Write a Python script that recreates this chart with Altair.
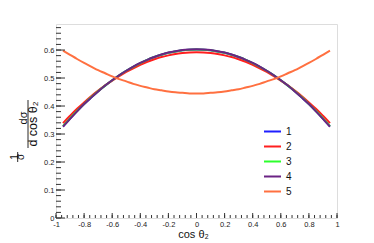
import altair as alt
import pandas as pd

xs = [-0.95, -0.90, -0.85, -0.80, -0.75, -0.70, -0.65, -0.60, -0.55, -0.50,
      -0.45, -0.40, -0.35, -0.30, -0.25, -0.20, -0.15, -0.10, -0.05, 0.00,
      0.05, 0.10, 0.15, 0.20, 0.25, 0.30, 0.35, 0.40, 0.45, 0.50,
      0.55, 0.60, 0.65, 0.70, 0.75, 0.80, 0.85, 0.90, 0.95]

s1 = [0.327, 0.355, 0.382, 0.407, 0.430, 0.453, 0.473, 0.492, 0.510, 0.526,
      0.540, 0.553, 0.565, 0.575, 0.583, 0.590, 0.595, 0.599, 0.601, 0.602,
      0.601, 0.599, 0.595, 0.590, 0.583, 0.575, 0.565, 0.553, 0.540, 0.526,
      0.510, 0.492, 0.473, 0.453, 0.430, 0.407, 0.382, 0.355, 0.327]
s2 = [0.339, 0.365, 0.390, 0.413, 0.435, 0.455, 0.474, 0.491, 0.507, 0.522,
      0.535, 0.547, 0.558, 0.567, 0.575, 0.581, 0.586, 0.589, 0.591, 0.592,
      0.591, 0.589, 0.586, 0.581, 0.575, 0.567, 0.558, 0.547, 0.535, 0.522,
      0.507, 0.491, 0.474, 0.455, 0.435, 0.413, 0.390, 0.365, 0.339]
s3 = [0.328, 0.356, 0.382, 0.407, 0.431, 0.453, 0.473, 0.492, 0.510, 0.526,
      0.540, 0.553, 0.565, 0.575, 0.583, 0.590, 0.595, 0.599, 0.601, 0.602,
      0.601, 0.599, 0.595, 0.590, 0.583, 0.575, 0.565, 0.553, 0.540, 0.526,
      0.510, 0.492, 0.473, 0.453, 0.431, 0.407, 0.382, 0.356, 0.328]
s4 = [0.326, 0.354, 0.381, 0.407, 0.430, 0.452, 0.473, 0.492, 0.510, 0.526,
      0.541, 0.554, 0.565, 0.575, 0.584, 0.591, 0.596, 0.600, 0.602, 0.603,
      0.602, 0.600, 0.596, 0.591, 0.584, 0.575, 0.565, 0.554, 0.541, 0.526,
      0.510, 0.492, 0.473, 0.452, 0.430, 0.407, 0.381, 0.354, 0.326]
s5 = [0.598, 0.583, 0.568, 0.554, 0.541, 0.528, 0.517, 0.506, 0.496, 0.488,
      0.479, 0.472, 0.466, 0.460, 0.456, 0.452, 0.449, 0.447, 0.445, 0.445,
      0.445, 0.447, 0.449, 0.452, 0.456, 0.460, 0.466, 0.472, 0.479, 0.488,
      0.496, 0.506, 0.517, 0.528, 0.541, 0.554, 0.568, 0.583, 0.598]

series_names = ["1", "2", "3", "4", "5"]
series_colors = ["#1f1fff", "#ff1f1f", "#2cff2c", "#6b2384", "#ff7040"]

x_major = [-1.0, -0.8, -0.6, -0.4, -0.2, 0.0, 0.2, 0.4, 0.6, 0.8, 1.0]
x_minor = [round(-1 + 0.04 * i, 2) for i in range(51)]
y_major = [0.0, 0.1, 0.2, 0.3, 0.4, 0.5, 0.6]
y_minor = [round(0.02 * i, 2) for i in range(35)]

rows = []
for name, vals in zip(series_names, [s1, s2, s3, s4, s5]):
    for i, (xv, yv) in enumerate(zip(xs, vals)):
        rows.append({"x": xv, "y": yv, "s": name, "o": i})
df = pd.DataFrame(rows)

W, H = 281, 194
FONT = "Liberation Sans"

xscale = alt.Scale(domain=[-1, 1], nice=False, zero=False)
yscale = alt.Scale(domain=[0, 0.693], nice=False, zero=False)

xaxis = alt.Axis(values=x_major, title="cos θ₂", grid=False, ticks=False, domain=False,
                 labelExpr="toString(round(datum.value*10)/10)",
                 labelOverlap=False, labelFlush=False, labelBound=False,
                 labelFontSize=7.5, labelPadding=2, labelFont=FONT, labelColor="#222",
                 titleFont=FONT, titleFontSize=11, titleFontWeight="normal",
                 titleColor="#111", titlePadding=1, titleX=137)
yaxis = alt.Axis(values=y_major, title=None, grid=False, ticks=False, domain=False,
                 labelExpr="toString(round(datum.value*10)/10)",
                 labelOverlap=False, labelFlush=False, labelBound=False,
                 labelFontSize=7.5, labelPadding=2, labelFont=FONT, labelColor="#222")

lines = alt.Chart(df).mark_line(strokeWidth=2, interpolate="monotone").encode(
    x=alt.X("x:Q", scale=xscale, axis=xaxis),
    y=alt.Y("y:Q", scale=yscale, axis=yaxis),
    color=alt.Color("s:N", scale=alt.Scale(domain=series_names, range=series_colors),
                    legend=alt.Legend(orient="none", legendX=207, legendY=98, title=None,
                                      symbolType="stroke", symbolStrokeWidth=2, symbolSize=289,
                                      labelFontSize=10, labelFont=FONT, labelOffset=4,
                                      rowPadding=0, padding=0, labelColor="#111")),
    order="o:Q",
)

ymaj = alt.Chart(pd.DataFrame({"v": y_major})).mark_rule(color="#333", strokeWidth=1).encode(
    y=alt.Y("v:Q", scale=yscale, axis=yaxis), x=alt.value(0), x2=alt.value(9))
ymin = alt.Chart(pd.DataFrame({"v": y_minor})).mark_rule(color="#333", strokeWidth=1).encode(
    y=alt.Y("v:Q", scale=yscale, axis=yaxis), x=alt.value(0), x2=alt.value(5))
xmaj = alt.Chart(pd.DataFrame({"v": x_major})).mark_rule(color="#333", strokeWidth=1).encode(
    x=alt.X("v:Q", scale=xscale, axis=xaxis), y=alt.value(H), y2=alt.value(H - 5))
xmin = alt.Chart(pd.DataFrame({"v": x_minor})).mark_rule(color="#333", strokeWidth=1).encode(
    x=alt.X("v:Q", scale=xscale, axis=xaxis), y=alt.value(H), y2=alt.value(H - 3))


def label(txt, x, y, size):
    return alt.Chart(pd.DataFrame({"t": [txt]})).mark_text(
        angle=270, align="center", baseline="middle", font=FONT, fontSize=size, color="#111"
    ).encode(text="t:N", x=alt.value(x), y=alt.value(y))


def bar(x, y1, y2):
    return alt.Chart(pd.DataFrame({"t": [0]})).mark_rule(color="#111", strokeWidth=0.9).encode(
        x=alt.value(x), y=alt.value(y1), y2=alt.value(y2))


title_parts = [
    label("1", -41, 133, 10),
    label("σ", -35, 133, 10),
    bar(-38.3, 128, 138),
    label("dσ", -32, 94, 11),
    bar(-28, 76, 124),
    label("d cos θ₂", -23, 100, 12.5),
]

chart = alt.layer(lines, ymin, ymaj, xmin, xmaj, *title_parts).properties(
    width=W, height=H,
    autosize=alt.AutoSizeParams(type="none"),
    padding={"left": 48, "top": 16, "right": 20, "bottom": 25},
).configure_view(stroke="#444", strokeWidth=1).configure(background="white")

chart.save("out.html", embed_options={"renderer": "svg", "actions": False})
